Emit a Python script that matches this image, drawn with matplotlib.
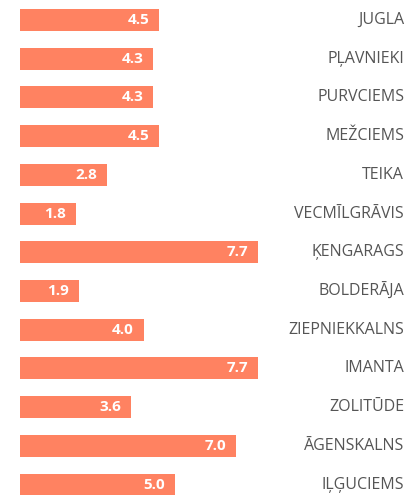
import matplotlib
matplotlib.use("Agg")
import matplotlib.pyplot as plt

categories = ["JUGLA", "PĻAVNIEKI", "PURVCIEMS", "MEŽCIEMS", "TEIKA", "VECMĪLGRĀVIS",
              "ĶENGARAGS", "BOLDERĀJA", "ZIEPNIEKKALNS", "IMANTA", "ZOLITŪDE",
              "ĀGENSKALNS", "IĻĢUCIEMS"]
values = [4.5, 4.3, 4.3, 4.5, 2.8, 1.8, 7.7, 1.9, 4.0, 7.7, 3.6, 7.0, 5.0]

bar_color = "#FF8261"
fig = plt.figure(figsize=(4.2, 4.95), dpi=100)
ax = fig.add_axes([0, 0, 1, 1])
pos = list(range(len(categories)))
ax.barh(pos, values, height=0.57, color=bar_color)
ax.set_xlim(-0.647, 12.94)
ax.set_ylim(12.27, -0.517)
ax.axis("off")

for p, c, v in zip(pos, categories, values):
    ax.text(0.962, p, c, transform=ax.get_yaxis_transform(), ha="right", va="center",
            fontsize=11.5, color="#555555", family="Open Sans")
    ax.annotate(f"{v:.1f}", xy=(v, p), xytext=(-7, 0), textcoords="offset points",
                ha="right", va="center", fontsize=11, color="white",
                fontweight="bold", family="Open Sans")

fig.savefig("out.png", dpi=100)
